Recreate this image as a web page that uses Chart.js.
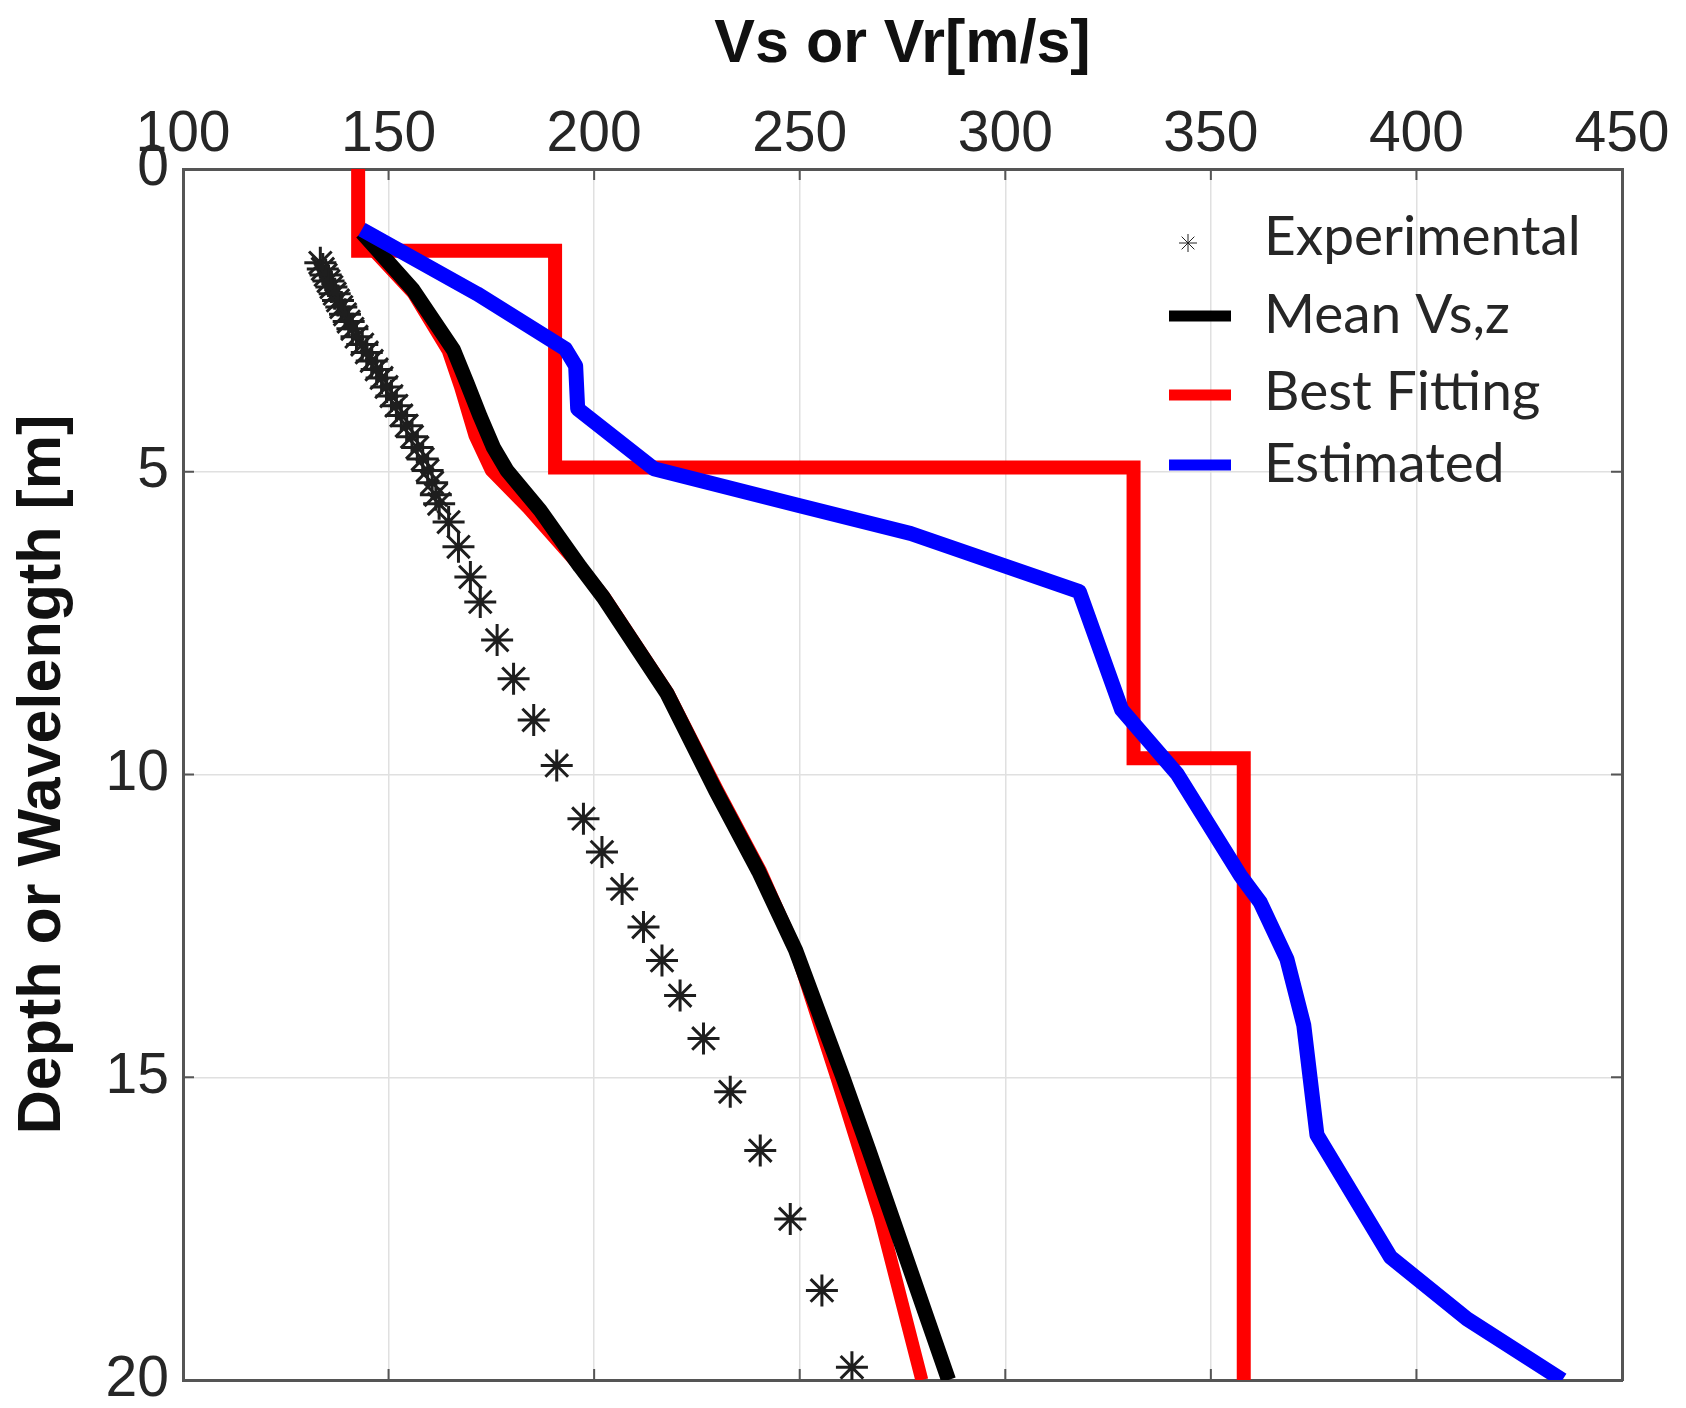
<!DOCTYPE html>
<html><head><meta charset="utf-8">
<script src="https://cdn.jsdelivr.net/npm/chart.js@4"></script>
<style>html,body{margin:0;padding:0;background:#fff}#wrap{width:1686px;height:1408px;position:relative}</style>
</head><body><div id="wrap"><canvas id="c" width="1686" height="1408"></canvas></div>
<script>
// ---- data ----
const xTicks = [100, 150, 200, 250, 300, 350, 400, 450];
const yTicks = [0, 5, 10, 15, 20];

const expDepth = [1.55,1.65,1.75,1.85,1.95,2.06,2.17,2.28,2.40,2.52,2.64,2.77,2.90,3.03,3.17,3.31,3.45,3.60,3.75,3.91,4.07,4.24,4.42,4.60,4.79,4.98,5.18,5.38,5.53,5.83,6.24,6.74,7.15,7.78,8.42,9.10,9.85,10.73,11.28,11.89,12.52,13.07,13.65,14.36,15.24,16.21,17.34,18.52,19.79];
const expVel   = [133.4,134.0,134.7,135.4,136.1,136.9,137.7,138.5,139.4,140.3,141.2,142.2,143.6,144.7,145.9,147.1,148.3,149.5,150.7,151.9,153.1,154.4,155.7,157.0,158.3,159.5,160.6,161.5,162.3,164.6,167.0,169.9,172.3,176.4,180.4,185.3,190.9,197.4,201.9,206.8,212.0,216.5,220.9,226.6,233.1,240.4,247.7,255.4,262.7];

const meanDepth = [1.05,2.0,2.99,3.54,4.09,4.6,4.98,5.64,6.57,7.07,8.66,10.26,11.6,12.9,15.0,16.2,17.3,20];
const meanVel   = [143.5,156.0,165.8,169.1,172.3,175.5,178.8,186.9,196.6,202.2,217.7,229.5,240.0,249.0,260.5,266.8,272.4,286.2];

const bestStepDepth = [0,1.35,1.35,4.93,4.93,9.73,9.73,20];
const bestStepVel   = [142.6,142.6,190.5,190.5,331.2,331.2,358.0,358.0];

const bestCurveDepth = [1.1,2.05,3.0,3.6,4.4,4.98,5.6,6.57,7.07,8.66,10.26,11.6,12.9,15.0,16.2,17.3,20];
const bestCurveVel   = [143.0,156.0,164.5,167.5,171.0,175.0,184.0,196.6,202.5,218.0,230.0,240.5,249.0,259.0,264.5,269.5,279.7];

const estDepth = [1.0,2.06,2.97,3.25,3.96,4.95,5.55,6.02,6.98,8.93,9.99,11.67,12.11,13.05,14.14,15.95,17.97,18.99,20];
const estVel   = [143.5,171.5,193.0,195.5,196.0,214.5,249.3,277.0,318.0,328.3,341.8,357.2,362.0,368.5,372.6,375.8,393.7,412.3,435.5];

const legendLabels = ['Experimental', 'Mean Vs,z', 'Best Fitting', 'Estimated'];

function pts(vs, ds) { return vs.map((v, i) => ({x: v, y: ds[i]})); }

const tickFont = {family: '"Liberation Sans", Arial, sans-serif', size: 57, lineHeight: 1};
const titleFont = {family: '"Liberation Sans", Arial, sans-serif', size: 61, weight: 'bold', lineHeight: 1.2};
const gridCfg = {color: '#e0e0e0', lineWidth: 1.5, drawTicks: false};
const borderCfg = {display: true, color: '#555555', width: 3};

function noPad(s) { s.paddingTop = 0; s.paddingBottom = 0; s.paddingLeft = 0; s.paddingRight = 0; }

// inside tick marks drawn from the library's scales
const insideTicks = {
  id: 'insideTicks',
  afterDatasetsDraw(chart) {
    const {ctx, chartArea: a, scales} = chart;
    const L = 11;
    ctx.save();
    ctx.strokeStyle = '#555555';
    ctx.lineWidth = 2;
    ctx.beginPath();
    scales.x.ticks.forEach(t => {
      if (t.value <= scales.x.min || t.value >= scales.x.max) return;
      const px = scales.x.getPixelForValue(t.value);
      ctx.moveTo(px, a.top); ctx.lineTo(px, a.top + L);
      ctx.moveTo(px, a.bottom); ctx.lineTo(px, a.bottom - L);
    });
    scales.y.ticks.forEach(t => {
      if (t.value <= scales.y.min || t.value >= scales.y.max) return;
      const py = scales.y.getPixelForValue(t.value);
      ctx.moveTo(a.left, py); ctx.lineTo(a.left + L, py);
      ctx.moveTo(a.right, py); ctx.lineTo(a.right - L, py);
    });
    ctx.stroke();
    ctx.restore();
  }
};

// legend inside plot (top-right)
const insideLegend = {
  id: 'insideLegend',
  afterDraw(chart) {
    const {ctx, chartArea: a} = chart;
    const R = a.right, T = a.top;
    const ds = chart.data.datasets;
    const byLabel = l => ds.find(d => d.label === l);
    const baselines = [86, 164, 241, 313];
    const marks = [74, 147, 226, 296];
    legendLabels.forEach((lab, i) => {
      const d = byLabel(lab);
      const my = T + marks[i];
      ctx.save();
      if (!d.showLine) {
        ctx.strokeStyle = '#222222';
        Chart.helpers.drawPoint(ctx, {pointStyle: 'star', radius: 9, borderWidth: 2.5}, R - 434, my);
      } else {
        ctx.strokeStyle = d.borderColor;
        ctx.lineWidth = 11;
        ctx.lineCap = 'butt';
        ctx.beginPath();
        ctx.moveTo(R - 453, my); ctx.lineTo(R - 391, my);
        ctx.stroke();
      }
      ctx.restore();
      ctx.save();
      ctx.font = '55px Lato, "Open Sans", sans-serif';
      ctx.fillStyle = '#262626';
      ctx.textBaseline = 'alphabetic';
      ctx.textAlign = 'left';
      ctx.fillText(lab, R - 358, T + baselines[i]);
      ctx.restore();
    });
  }
};

new Chart(document.getElementById('c'), {
  type: 'scatter',
  data: {
    datasets: [
      {label: 'Estimated', data: pts(estVel, estDepth), showLine: true, borderColor: '#0000ff', backgroundColor: '#0000ff', borderWidth: 15, pointRadius: 0, borderJoinStyle: 'round', tension: 0},
      {label: 'Mean Vs,z', data: pts(meanVel, meanDepth), showLine: true, borderColor: '#000000', backgroundColor: '#000000', borderWidth: 15, pointRadius: 0, borderJoinStyle: 'round', tension: 0},
      {label: 'Best Fitting', data: pts(bestStepVel, bestStepDepth), showLine: true, borderColor: '#ff0000', backgroundColor: '#ff0000', borderWidth: 14, pointRadius: 0, borderJoinStyle: 'miter', tension: 0},
      {label: '', data: pts(bestCurveVel, bestCurveDepth), showLine: true, borderColor: '#ff0000', backgroundColor: '#ff0000', borderWidth: 13, pointRadius: 0, borderJoinStyle: 'round', tension: 0},
      {label: 'Experimental', data: pts(expVel, expDepth), showLine: false, pointStyle: 'star', pointRadius: 16, pointBorderWidth: 3, borderColor: '#1e1e1e', backgroundColor: 'rgba(0,0,0,0)'}
    ]
  },
  options: {
    responsive: false,
    animation: false,
    devicePixelRatio: 1,
    layout: {padding: 0, autoPadding: false},
    plugins: {legend: {display: false}, tooltip: {enabled: false}},
    scales: {
      x: {
        type: 'linear', position: 'top', min: xTicks[0], max: xTicks[xTicks.length - 1],
        afterBuildTicks: s => { s.ticks = xTicks.map(v => ({value: v})); },
        ticks: {font: tickFont, color: '#262626', padding: 5, maxRotation: 0, autoSkip: false},
        grid: gridCfg, border: borderCfg,
        title: {display: true, text: 'Vs or Vr[m/s]', font: titleFont, color: '#111111', padding: {top: 9, bottom: 0}},
        afterFit: s => { s.height = 169; noPad(s); }
      },
      y: {
        type: 'linear', position: 'left', reverse: true, min: yTicks[0], max: yTicks[yTicks.length - 1],
        afterBuildTicks: s => { s.ticks = yTicks.map(v => ({value: v})); },
        ticks: {font: tickFont, color: '#262626', padding: 14, autoSkip: false},
        grid: gridCfg, border: borderCfg,
        title: {display: true, text: 'Depth or Wavelength [m]', font: titleFont, color: '#111111', padding: {top: 7, bottom: 0}},
        afterFit: s => { s.width = 183; noPad(s); }
      },
      x2: {
        type: 'linear', position: 'bottom', min: xTicks[0], max: xTicks[xTicks.length - 1],
        ticks: {display: false}, grid: {display: false, drawTicks: false}, border: borderCfg,
        afterFit: s => { s.height = 28; noPad(s); }
      },
      y2: {
        type: 'linear', position: 'right', reverse: true, min: yTicks[0], max: yTicks[yTicks.length - 1],
        ticks: {display: false}, grid: {display: false, drawTicks: false}, border: borderCfg,
        afterFit: s => { s.width = 64; noPad(s); }
      }
    }
  },
  plugins: [insideTicks, insideLegend]
});
</script></body></html>
